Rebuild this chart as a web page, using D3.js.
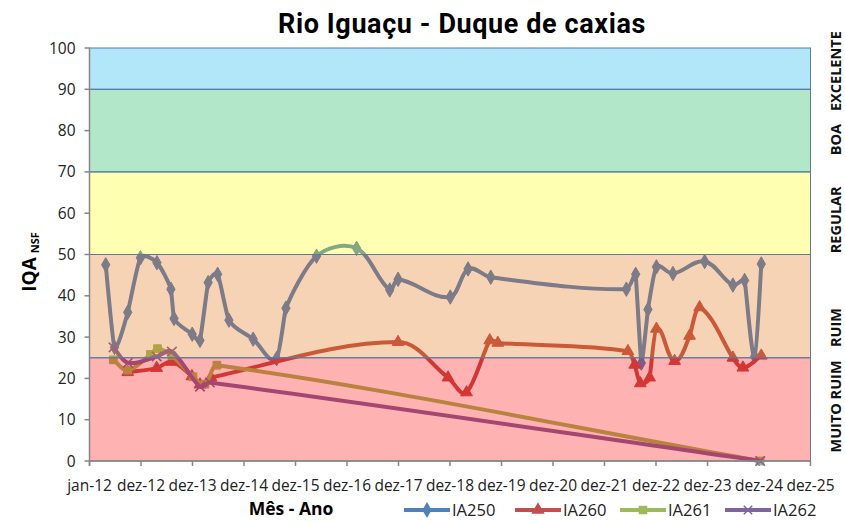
<!DOCTYPE html>
<html>
<head>
<meta charset="utf-8">
<script src="https://cdn.jsdelivr.net/npm/d3@7"></script>
<style>
  body { margin: 0; background: #fff; }
  text { font-family: "Open Sans", Lato, sans-serif; }
</style>
</head>
<body>
<div id="chart"></div>
<script>
// dados (IQA NSF por data de coleta)
const ia250Dates = ["2012-04-25","2012-06-26","2012-09-28","2012-12-27","2013-04-23","2013-07-31","2013-08-22",
  "2013-12-29","2014-02-22","2014-04-21","2014-06-27","2014-09-15","2015-03-06","2015-08-19","2015-10-24",
  "2016-05-28","2017-03-08","2017-10-29","2017-12-27","2019-01-01","2019-05-07","2019-10-15","2022-06-02",
  "2022-08-07","2022-09-16","2022-11-02","2023-01-01","2023-04-28","2023-12-09","2024-06-26","2024-09-17",
  "2024-11-27","2025-01-13"];
const ia250Vals = [47.5,27.5,36,49.2,48,41.6,34.5,30.7,29.2,43.2,45.2,34.1,29.5,24.8,37,
  49.6,51.5,41.4,44,39.7,46.5,44.5,41.6,45.2,23.7,36.7,47,45.4,48.3,42.6,43.7,25.3,47.7];

const ia260Dates = ["2012-09-28","2013-04-21","2013-08-07","2013-12-27","2014-02-22","2014-05-11","2017-12-27",
  "2018-12-16","2019-04-26","2019-10-08","2019-12-04","2022-06-13","2022-07-31","2022-09-09","2022-11-14",
  "2023-01-01","2023-05-10","2023-08-24","2023-11-03","2024-06-26","2024-09-05","2025-01-13"];
const ia260Vals = [21.5,22.5,24,20.5,18.5,20.2,28.8,20.2,16.6,29.2,28.6,26.6,23.3,18.8,20.2,
  32,24.2,30.3,37.2,25,22.6,25.5];

const ia261Dates = ["2012-06-18","2012-09-28","2013-03-08","2013-04-27","2013-08-07","2014-01-03","2014-03-29",
  "2014-06-22","2025-01-05"];
const ia261Vals = [24.5,22,25.8,27.2,25.5,20.4,18.6,23.2,0];

const ia262Dates = ["2012-06-19","2012-09-30","2013-04-21","2013-08-07","2014-02-22","2014-05-03","2025-01-05"];
const ia262Vals = [27.5,23.8,25.3,26.5,18,19,0];

const seriesNames = ["IA250","IA260","IA261","IA262"];
const seriesColors = ["#4F81BD","#C0504D","#9BBB59","#8064A2"];
const seriesSymbols = ["diamond","triangle","square","x"];

// faixas de qualidade
const bandLimits = [0,25,50,70,90,100];
const bandNames = ["MUITO RUIM","RUIM","REGULAR","BOA","EXCELENTE"];
const bandColors = ["#FF0000","#E46C0A","#FFFF00","#00B050","#00B0F0"];
const bandLabelAt = [13.2,32.3,58.4,77.8,94.4];

const yTicks = [0,10,20,30,40,50,60,70,80,90,100];
const xTickLabels = ["jan-12","dez-12","dez-13","dez-14","dez-15","dez-16","dez-17","dez-18",
  "dez-19","dez-20","dez-21","dez-22","dez-23","dez-24","dez-25"];

const W = 845, H = 521;
const pL = 89.5, pR = 810.5, pT = 48, pB = 461;

const parse = d3.utcParse("%Y-%m-%d");
const start = Date.UTC(2012,0,1);
const dayMs = 86400000;
const xTickDates = xTickLabels.map((d,i) => new Date(start + i*365*dayMs));

const series = [
  {dates: ia250Dates, vals: ia250Vals},
  {dates: ia260Dates, vals: ia260Vals},
  {dates: ia261Dates, vals: ia261Vals},
  {dates: ia262Dates, vals: ia262Vals}
].map((s,i) => ({
  name: seriesNames[i], color: seriesColors[i], sym: seriesSymbols[i],
  pts: s.dates.map((d,j) => ({date: parse(d), v: s.vals[j]}))
}));

const svg = d3.select("#chart").append("svg")
  .attr("width", W).attr("height", H);

const x = d3.scaleUtc()
  .domain([xTickDates[0], xTickDates[xTickDates.length-1]])
  .range([pL, pR]);
const y = d3.scaleLinear().domain([0,100]).range([pB, pT]);

function markerPath(type, size){
  if (type === "diamond") return d3.symbol(d3.symbolDiamond, size)();
  if (type === "triangle") return d3.symbol(d3.symbolTriangle, size)();
  if (type === "square") return d3.symbol(d3.symbolSquare, size)();
  const r = Math.sqrt(size)/2;
  return `M${-r},${-r}L${r},${r}M${-r},${r}L${r},${-r}`;
}

// curva suave tipo Excel: tangente pelos vizinhos, braço limitado pelo passo em x
function SmoothCurve(context){ this._context = context; }
SmoothCurve.prototype = {
  areaStart(){}, areaEnd(){},
  lineStart(){ this._pts = []; },
  point(px, py){ this._pts.push([+px, +py]); },
  lineEnd(){
    const p = this._pts, n = p.length, c = this._context;
    if (!n) return;
    c.moveTo(p[0][0], p[0][1]);
    const tan = p.map((q,i) => {
      const a = p[Math.max(0,i-1)], b = p[Math.min(n-1,i+1)];
      const dx = b[0]-a[0], dy = b[1]-a[1], l = Math.hypot(dx,dy) || 1;
      return [dx/l, dy/l];
    });
    for (let i = 0; i < n-1; i++){
      const a = p[i], b = p[i+1];
      const L = Math.min(Math.hypot(b[0]-a[0], b[1]-a[1]) * 0.33, Math.abs(b[0]-a[0]) * 0.45);
      c.bezierCurveTo(a[0]+tan[i][0]*L, a[1]+tan[i][1]*L,
                      b[0]-tan[i+1][0]*L, b[1]-tan[i+1][1]*L, b[0], b[1]);
    }
  }
};
const curveSmooth = ctx => new SmoothCurve(ctx);

const line = d3.line()
  .x(d => x(d.date)).y(d => y(d.v))
  .curve(curveSmooth);

const gLines = svg.append("g");
series.forEach(s => {
  gLines.append("path")
    .datum(s.pts)
    .attr("d", line)
    .attr("fill","none")
    .attr("stroke", s.color)
    .attr("stroke-width", 4)
    .attr("stroke-linejoin","round")
    .attr("stroke-linecap","round");
  gLines.selectAll(null)
    .data(s.pts)
    .enter().append("path")
    .attr("transform", d => `translate(${x(d.date)},${y(d.v)})`)
    .attr("d", markerPath(s.sym, s.sym === "x" ? 90 : 60))
    .attr("fill", s.sym === "x" ? "none" : s.color)
    .attr("stroke", s.color)
    .attr("stroke-width", s.sym === "x" ? 1.6 : 1);
});

// faixas semitransparentes por cima
const bands = bandNames.map((n,i) => ({lo: bandLimits[i], hi: bandLimits[i+1], color: bandColors[i], name: n, at: bandLabelAt[i]}));
svg.append("g").selectAll("rect")
  .data(bands)
  .enter().append("rect")
  .attr("x", pL)
  .attr("width", pR-pL)
  .attr("y", d => y(d.hi))
  .attr("height", d => y(d.lo) - y(d.hi))
  .attr("fill", d => d.color)
  .attr("fill-opacity", 0.3)
  .attr("stroke", "#5a78a8")
  .attr("stroke-width", 1);

// eixo Y
const gy = svg.append("g");
gy.append("line").attr("x1",pL).attr("x2",pL).attr("y1",pT).attr("y2",pB+5)
  .attr("stroke","#868686").attr("stroke-width",1.5);
gy.selectAll(".tk").data(yTicks).enter().append("line")
  .attr("x1",pL-5).attr("x2",pL).attr("y1",d=>y(d)).attr("y2",d=>y(d))
  .attr("stroke","#868686").attr("stroke-width",1.5);
gy.selectAll(".lb").data(yTicks).enter().append("text")
  .attr("x",pL-14).attr("y",d=>y(d)+5.5)
  .attr("text-anchor","end")
  .style("font-size","15.5px").style("fill","#222")
  .text(d=>d);

// eixo X
const gx = svg.append("g");
gx.append("line").attr("x1",pL).attr("x2",pR).attr("y1",pB).attr("y2",pB)
  .attr("stroke","#868686").attr("stroke-width",1.5);
gx.selectAll(".tk").data(xTickDates).enter().append("line")
  .attr("x1",d=>x(d)).attr("x2",d=>x(d)).attr("y1",pB).attr("y2",pB+5)
  .attr("stroke","#868686").attr("stroke-width",1.5);
gx.selectAll(".lb").data(xTickDates).enter().append("text")
  .attr("x",d=>x(d)).attr("y",pB+30)
  .attr("text-anchor","middle")
  .style("font-size","15.5px").style("fill","#222")
  .text((d,i)=>xTickLabels[i]);

// nomes das faixas à direita
svg.append("g").selectAll("text")
  .data(bands).enter().append("text")
  .attr("transform", d => `translate(841,${y(d.at)}) rotate(-90)`)
  .attr("text-anchor","middle")
  .style("font-size","14.5px").style("font-weight","700").style("fill","#111")
  .text(d => d.name);

// títulos
svg.append("text")
  .attr("x",462).attr("y",33)
  .attr("text-anchor","middle")
  .style("font-family","Roboto, sans-serif")
  .style("font-size","27px").style("font-weight","700")
  .style("letter-spacing","0.6px").style("fill","#000")
  .text("Rio Iguaçu - Duque de caxias");

const yl = svg.append("text")
  .attr("transform","translate(36,262) rotate(-90)")
  .attr("text-anchor","middle")
  .style("font-weight","700").style("fill","#000");
yl.append("tspan").style("font-size","19px").text("IQA");
yl.append("tspan").style("font-size","11px").attr("dx",4).attr("dy",3).text("NSF");

svg.append("text")
  .attr("x",291).attr("y",515)
  .attr("text-anchor","middle")
  .style("font-size","17.5px").style("font-weight","700").style("fill","#000")
  .text("Mês - Ano");

// legenda
const legX = [404,515,620,725];
const leg = svg.append("g").selectAll("g")
  .data(series).enter().append("g")
  .attr("transform",(d,i)=>`translate(${legX[i]},510)`);
leg.append("line").attr("x1",0).attr("x2",46).attr("y1",0).attr("y2",0)
  .attr("stroke",d=>d.color).attr("stroke-width",4);
leg.append("path")
  .attr("transform","translate(23,0)")
  .attr("d",d=>markerPath(d.sym, d.sym==="x" ? 70 : 50))
  .attr("fill",d=>d.sym==="x" ? "none" : d.color)
  .attr("stroke",d=>d.color).attr("stroke-width",1.5);
leg.append("text")
  .attr("x",48).attr("y",5.5)
  .style("font-size","16.5px").style("fill","#222")
  .text(d=>d.name);
</script>
</body>
</html>
